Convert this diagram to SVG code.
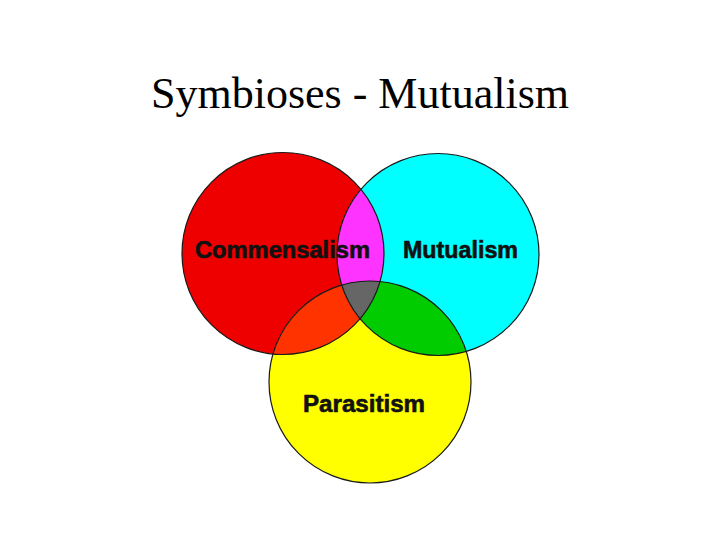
<svg xmlns="http://www.w3.org/2000/svg" width="720" height="540" viewBox="0 0 720 540">
  <style>
    .outline { fill: none; stroke: #1a1a1a; stroke-width: 1.2; }
    .label { font-family: "Liberation Sans", Arial, sans-serif; font-weight: bold; font-size: 23px; fill: #111111; stroke: #111111; stroke-width: 0.6; }
    .title { font-family: "Liberation Serif", "Times New Roman", serif; font-size: 44px; fill: #000000; }
  </style>
  <defs>
    <circle id="cRed" cx="283" cy="253.5" r="101"/>
    <circle id="cCyan" cx="438" cy="254.5" r="101"/>
    <circle id="cYellow" cx="370" cy="382" r="101"/>
    <clipPath id="clipRed"><use href="#cRed"/></clipPath>
    <clipPath id="clipCyan"><use href="#cCyan"/></clipPath>
    <clipPath id="clipYellow"><use href="#cYellow"/></clipPath>
  </defs>
  <rect width="720" height="540" fill="#ffffff"/>
  <text class="title" x="360" y="108" text-anchor="middle">Symbioses - Mutualism</text>

  <g id="node-commensalism">
    <use href="#cRed" fill="#EE0000"/>
  </g>
  <g id="node-mutualism">
    <use href="#cCyan" fill="#00FFFF"/>
  </g>
  <g id="node-parasitism">
    <use href="#cYellow" fill="#FFFF00"/>
  </g>

  <g id="overlaps">
    <g clip-path="url(#clipRed)"><use href="#cCyan" fill="#FF33FF"/></g>
    <g clip-path="url(#clipRed)"><use href="#cYellow" fill="#FF3300"/></g>
    <g clip-path="url(#clipCyan)"><use href="#cYellow" fill="#00CC00"/></g>
    <g clip-path="url(#clipRed)"><g clip-path="url(#clipCyan)"><use href="#cYellow" fill="#666666"/></g></g>
  </g>

  <g id="outlines">
    <use href="#cRed" class="outline"/>
    <use href="#cCyan" class="outline"/>
    <use href="#cYellow" class="outline"/>
  </g>

  <g id="labels">
    <text id="label-commensalism" class="label" x="195" y="258" textLength="175" lengthAdjust="spacingAndGlyphs">Commensalism</text>
    <text id="label-mutualism" class="label" x="403" y="258" textLength="115" lengthAdjust="spacingAndGlyphs">Mutualism</text>
    <text id="label-parasitism" class="label" x="303" y="412" textLength="122" lengthAdjust="spacingAndGlyphs">Parasitism</text>
  </g>
</svg>
